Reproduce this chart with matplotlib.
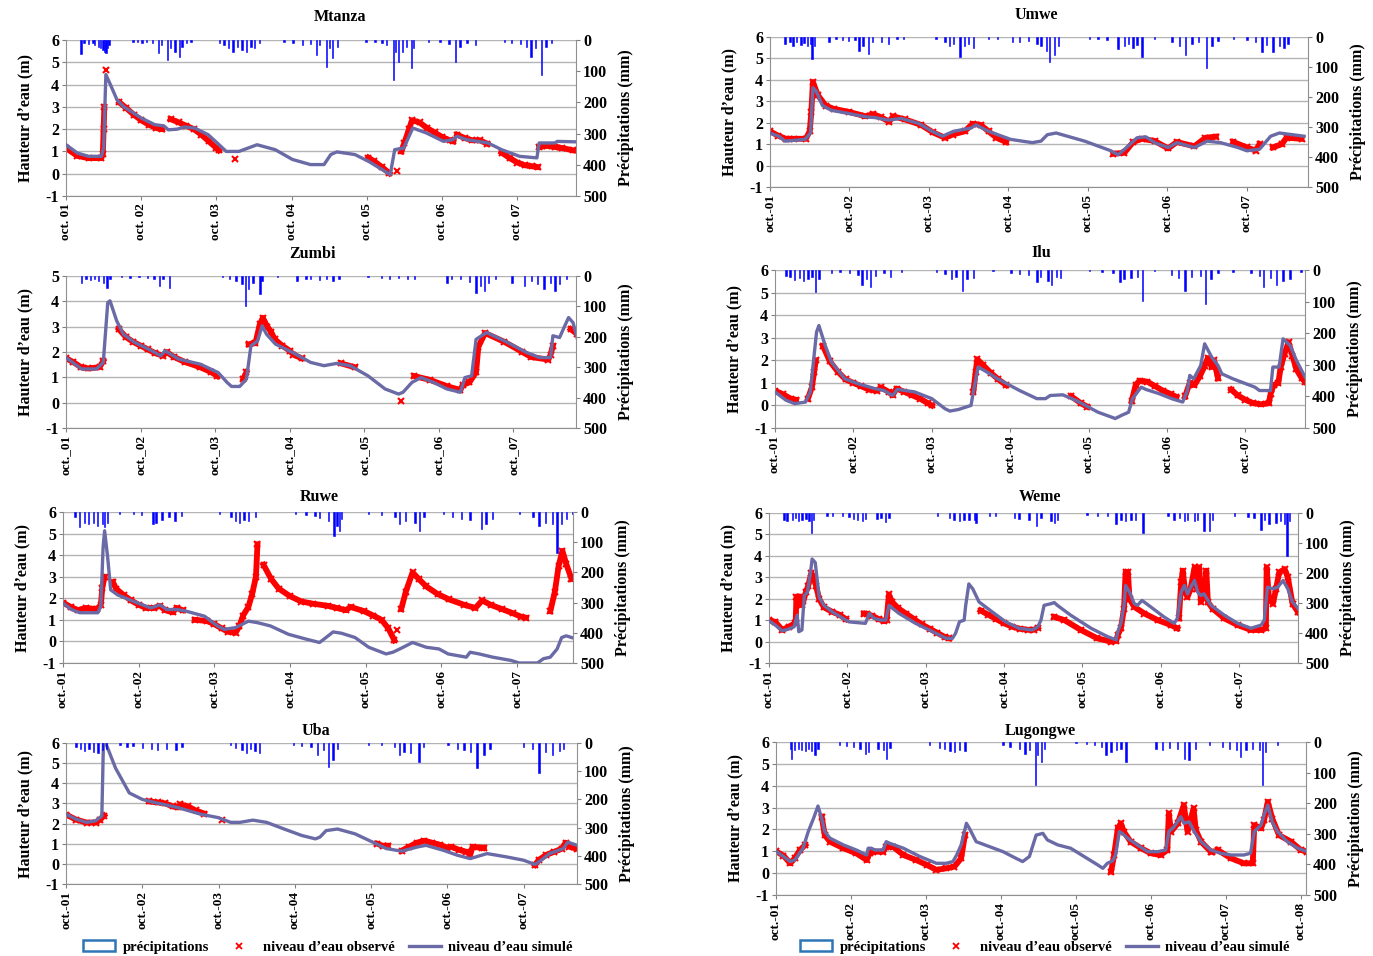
import numpy as np
import matplotlib
matplotlib.use('Agg')
import matplotlib.pyplot as plt
from matplotlib.patches import Patch
from matplotlib.lines import Line2D

nan = np.nan
plt.rcParams['font.family'] = ['Liberation Serif', 'DejaVu Serif']
plt.rcParams['font.weight'] = 'bold'
plt.rcParams['axes.labelweight'] = 'bold'
plt.rcParams['axes.unicode_minus'] = False

# time axis: years since oct. 2001

# ---------------- Mtanza ----------------
mtanza_sim_t = [0, .15, .3, .47, .5, .53, .59, .68, .77, 1.0, 1.18, 1.3, 1.36, 1.48, 1.57, 1.71, 1.89, 2.01, 2.13, 2.3,
                2.54, 2.78, 3.01, 3.25, 3.43, 3.52, 3.6, 3.84, 4.02, 4.2, 4.31, 4.37, 4.49, 4.61, 4.79, 5.02, 5.14, 5.2,
                5.32, 5.61, 5.79, 6.03, 6.26, 6.29, 6.5, 6.53, 6.78]
mtanza_sim_h = [1.3, .93, .78, .78, 1.15, 4.45, 4.0, 3.3, 3.0, 2.5, 2.2, 2.15, 1.97, 2.0, 2.1, 2.05, 1.75, 1.38, 1.0, 1.0,
                1.3, 1.08, .64, .41, .41, .86, .98, .86, .56, .19, -.04, 1.08, 1.15, 2.05, 1.83, 1.45, 1.53, 1.68,
                1.53, 1.38, 1.08, .78, .71, 1.38, 1.38, 1.45, 1.43]
mtanza_obs_t = [0, .15, .3, .47, .49, .5, .51, nan, .53, nan, .71, .8, .9, 1.0, 1.1, 1.2, 1.28, nan, 1.39, 1.5, 1.6, 1.7,
                1.8, 1.9, 2.0, 2.03, nan, 2.25, nan, 4.02, 4.1, 4.2, 4.3, nan, 4.4, nan, 4.46, 4.5, 4.56, 4.6, 4.7, 4.8,
                4.9, 5.0, 5.1, 5.15, nan, 5.2, 5.3, 5.4, 5.5, 5.6, nan, 5.79, 5.9, 6.0, 6.1, 6.2, 6.27, nan, 6.29, 6.4,
                6.5, 6.6, 6.74]
mtanza_obs_h = [1.15, .8, .7, .7, .9, 2.0, 3.0, nan, 4.65, nan, 3.2, 2.95, 2.65, 2.4, 2.2, 2.05, 2.0, nan, 2.45, 2.3, 2.15,
                2.0, 1.75, 1.45, 1.15, 1.05, nan, .66, nan, .72, .55, .3, .02, nan, .1, nan, 1.0, 1.4, 2.0, 2.4, 2.3,
                2.05, 1.85, 1.65, 1.5, 1.45, nan, 1.75, 1.6, 1.5, 1.5, 1.35, nan, .95, .7, .5, .38, .33, .3, nan, 1.2,
                1.25, 1.2, 1.15, 1.05]
mtanza_rain_t = [.2, .24, .3, .36, .38, .43, .46, .49, .51, .53, .55, .57,
                 .89, .95, 1.01, 1.07, 1.15, 1.23, 1.27, 1.35, 1.39, 1.45, 1.51, 1.54, 1.6, 1.66,
                 2.04, 2.1, 2.16, 2.22, 2.28, 2.34, 2.4, 2.46, 2.51, 2.57,
                 2.9, 3.02, 3.14, 3.25, 3.33, 3.37, 3.46, 3.5, 3.54, 3.61,
                 3.99, 4.11, 4.2, 4.26, 4.35, 4.38, 4.42, 4.47, 4.53, 4.59, 4.62,
                 4.82, 4.97, 5.09, 5.18, 5.24, 5.33, 5.44,
                 5.83, 5.92, 6.04, 6.12, 6.18, 6.24, 6.32, 6.38, 6.45]
mtanza_rain_mm = [46, 11, 14, 11, 16, 21, 27, 32, 37, 43, 27, 16,
                  5, 7, 11, 5, 11, 43, 16, 64, 27, 37, 53, 21, 11, 5,
                  11, 16, 27, 37, 21, 32, 37, 21, 27, 11,
                  5, 11, 16, 14, 48, 16, 85, 27, 59, 21,
                  5, 7, 11, 16, 128, 37, 69, 37, 21, 90, 27,
                  5, 7, 14, 69, 21, 11, 16,
                  5, 11, 14, 21, 53, 27, 112, 21, 11]

# ---------------- Umwe ----------------
umwe_sim_t = [0, .11, .19, .44, .51, .54, .58, .66, .77, .99, 1.21, 1.32, 1.49, 1.65, 1.87, 2.04, 2.17, 2.31, 2.53, 2.59,
              2.75, 3.03, 3.3, 3.41, 3.49, 3.6, 3.96, 4.29, 4.38, 4.51, 4.62, 4.73, 4.84, 5.01, 5.12, 5.34, 5.5, 5.67,
              5.89, 6.0, 6.16, 6.3, 6.41, 6.72]
umwe_sim_h = [1.52, 1.37, 1.14, 1.22, 1.52, 3.63, 3.48, 2.8, 2.58, 2.43, 2.27, 2.24, 2.12, 2.2, 1.97, 1.6, 1.37, 1.6, 1.75,
              1.9, 1.6, 1.22, 1.07, 1.14, 1.44, 1.52, 1.14, .69, .5, .92, 1.3, 1.34, 1.07, .84, 1.07, .84, 1.14, 1.07,
              .84, .69, .76, 1.37, 1.52, 1.37]
umwe_obs_t = [0, .1, .2, .3, .45, .5, .52, .54, .6, .7, .8, 1.0, 1.2, 1.3, 1.4, 1.5, 1.55, 1.7, 1.9, 2.05, 2.2, 2.3, 2.45,
              2.55, 2.65, 2.75, 2.85, 2.97, nan, 4.32, 4.46, 4.57, 4.68, 4.84, 5.01, 5.12, 5.34, 5.48, 5.61, nan, 5.83,
              6.0, 6.11, 6.16, nan, 6.33, 6.44, 6.5, 6.69]
umwe_obs_h = [1.6, 1.4, 1.25, 1.25, 1.25, 1.6, 2.5, 3.9, 3.3, 2.8, 2.65, 2.5, 2.3, 2.4, 2.25, 2.05, 2.3, 2.15, 1.9, 1.55,
              1.3, 1.45, 1.6, 1.95, 1.9, 1.6, 1.3, 1.1, nan, .55, .6, 1.1, 1.25, 1.15, .8, 1.1, .9, 1.3, 1.35, nan, 1.1,
              .85, .7, 1.0, nan, .85, 1.0, 1.3, 1.25]
umwe_rain_t = [.19, .25, .29, .33, .39, .43, .47, .51, .53, .56,
               .74, .83, .91, .99, 1.07, 1.12, 1.17, 1.24, 1.29, 1.4, 1.49, 1.6, 1.68,
               2.09, 2.2, 2.26, 2.31, 2.39, 2.45, 2.5, 2.56,
               2.75, 2.86, 3.05, 3.14, 3.25, 3.36, 3.41, 3.48, 3.52, 3.58, 3.63,
               4.02, 4.13, 4.24, 4.38, 4.46, 4.51, 4.57, 4.62, 4.68,
               4.84, 5.06, 5.15, 5.23, 5.31, 5.39, 5.49, 5.56, 5.64,
               5.83, 6.0, 6.11, 6.19, 6.25, 6.33, 6.41, 6.47, 6.52]
umwe_rain_mm = [24, 18, 29, 16, 27, 20, 31, 24, 72, 29,
                18, 8, 10, 13, 10, 45, 29, 56, 18, 16, 24, 8, 5,
                8, 16, 29, 24, 67, 29, 24, 35,
                5, 8, 16, 18, 13, 24, 29, 45, 83, 61, 29,
                5, 8, 10, 40, 29, 24, 35, 27, 67,
                5, 18, 29, 61, 24, 18, 104, 29, 13,
                8, 10, 18, 51, 27, 49, 29, 38, 24]

# ---------------- Zumbi ----------------
zumbi_sim_t = [0, .12, .21, .41, .5, .56, .59, .68, .77, .92, 1.15, 1.27, 1.33, 1.51, 1.8, 2.04, 2.16, 2.22, 2.33, 2.42,
               2.48, 2.57, 2.63, 2.69, 2.81, 3.04, 3.28, 3.46, 3.63, 3.81, 4.05, 4.28, 4.46, 4.52, 4.64, 4.76, 4.93,
               5.11, 5.29, 5.35, 5.44, 5.5, 5.64, 5.88, 6.18, 6.35, 6.5, 6.53, 6.62, 6.68, 6.74, 6.8, 6.86]
zumbi_sim_h = [1.78, 1.52, 1.33, 1.33, 1.59, 3.95, 4.02, 3.23, 2.7, 2.38, 2.05, 1.85, 2.05, 1.72, 1.52, 1.19, .8, .64,
               .64, .93, 2.24, 2.44, 3.03, 2.7, 2.31, 1.98, 1.59, 1.46, 1.55, 1.46, 1.06, .54, .34, .41, .8, .99, .8,
               .54, .41, .99, 1.06, 2.5, 2.77, 2.44, 1.98, 1.78, 1.78, 2.64, 2.57, 2.97, 3.36, 3.16, 2.5]
zumbi_obs_t = [0, .1, .2, .3, .45, .5, nan, .71, .8, .9, 1.0, 1.1, 1.2, 1.3, 1.35, 1.45, 1.6, 1.8, 1.95, 2.03, nan, 2.38,
               2.42, nan, 2.45, 2.54, 2.6, 2.64, 2.7, 2.75, 2.8, 2.9, 3.0, 3.05, 3.16, nan, 3.69, 3.87, nan, 4.49, nan,
               4.67, 4.88, 5.11, 5.29, 5.32, 5.41, 5.5, 5.53, 5.62, 5.88, 6.12, 6.24, 6.47, 6.5, 6.53, nan, 6.77, 6.86]
zumbi_obs_h = [1.75, 1.6, 1.4, 1.35, 1.4, 1.65, nan, 2.9, 2.6, 2.4, 2.25, 2.1, 1.95, 1.85, 2.0, 1.8, 1.6, 1.4, 1.2, 1.05,
               nan, .95, 1.2, nan, 2.3, 2.35, 3.1, 3.35, 3.0, 2.8, 2.5, 2.25, 2.05, 1.9, 1.75, nan, 1.55, 1.4, nan, .08,
               nan, 1.05, .9, .65, .5, .7, .8, 1.2, 2.2, 2.75, 2.4, 2.0, 1.8, 1.7, 1.9, 2.25, nan, 2.9, 2.7]
zumbi_rain_t = [.21, .27, .33, .38, .44, .5, .55, .59,
                .74, .86, .98, 1.09, 1.18, 1.25, 1.3, 1.39,
                2.1, 2.19, 2.28, 2.36, 2.41, 2.45, 2.51, 2.6, 2.63,
                2.84, 3.1, 3.22, 3.28, 3.4, 3.49, 3.58, 3.66,
                4.05, 4.23, 4.34, 4.46, 4.58, 4.67,
                5.11, 5.17, 5.29, 5.41, 5.5, 5.56, 5.61, 5.67, 5.76,
                5.98, 6.15, 6.24, 6.32, 6.41, 6.5, 6.56, 6.62, 6.71]
zumbi_rain_mm = [22, 9, 13, 9, 16, 22, 38, 11,
                 3, 5, 4, 7, 11, 33, 9, 38,
                 3, 9, 16, 27, 98, 44, 22, 60, 16,
                 3, 16, 11, 9, 14, 9, 16, 11,
                 2, 5, 9, 7, 11, 9,
                 22, 9, 11, 20, 55, 33, 49, 22, 9,
                 22, 33, 16, 27, 44, 22, 49, 27, 9]

# ---------------- Ilu ----------------
ilu_sim_t = [0, .14, .25, .39, .45, .53, .56, .64, .72, .89, 1.06, 1.28, 1.39, 1.5, 1.56, 1.78, 2.0, 2.17, 2.23, 2.34,
             2.5, 2.53, 2.59, 2.67, 2.84, 3.12, 3.34, 3.45, 3.51, 3.67, 3.84, 4.12, 4.34, 4.42, 4.51, 4.56, 4.67, 4.73,
             4.9, 5.06, 5.2, 5.26, 5.29, 5.34, 5.43, 5.48, 5.57, 5.65, 5.7, 5.84, 6.12, 6.18, 6.32, 6.35, 6.43, 6.48,
             6.57, 6.65, 6.76]
ilu_sim_h = [.6, .23, .08, .15, .6, 3.25, 3.54, 2.66, 1.92, 1.18, .96, .74, .66, .44, .71, .6, .3, -.15, -.25, -.18, 0,
             .6, 1.7, 1.55, 1.18, .66, .3, .3, .44, .47, .22, -.3, -.58, -.44, -.3, .3, .81, .71, .52, .3, .15, .66,
             1.33, 1.18, 1.77, 2.73, 2.14, 1.77, 1.4, 1.18, .81, .66, .66, 1.7, 1.7, 2.95, 2.66, 2.0, 1.26]
ilu_obs_t = [0, .1, .2, .27, nan, .42, .47, .5, .52, nan, .61, .7, .8, .9, 1.0, 1.1, 1.2, 1.3, 1.35, 1.45, 1.5, 1.55,
             1.65, 1.75, 1.85, 1.95, 2.0, nan, 2.53, 2.56, 2.58, 2.65, 2.75, 2.85, 2.95, nan, 3.78, 3.9, 3.98, nan,
             4.55, 4.6, 4.65, 4.75, 4.85, 4.95, 5.05, 5.12, nan, 5.23, 5.29, 5.35, 5.42, 5.48, 5.52, 5.57, 5.6, 5.65,
             nan, 5.82, 5.9, 6.0, 6.1, 6.2, 6.3, 6.32, 6.36, 6.42, 6.45, 6.5, 6.55, 6.6, 6.65, 6.72, 6.76]
ilu_obs_h = [.65, .5, .3, .25, nan, .3, .8, 1.5, 2.0, nan, 2.65, 1.95, 1.5, 1.15, 1.0, .85, .7, .65, .8, .6, .45, .75,
             .6, .45, .3, .1, 0, nan, .6, 1.5, 2.05, 1.8, 1.45, 1.15, .9, nan, .4, .1, -.05, nan, .2, .9, 1.1, 1.05,
             .85, .65, .5, .38, nan, .4, 1.0, .9, 1.3, 1.75, 2.1, 1.7, 2.0, 1.2, nan, .7, .45, .25, .1, .05, .1, .5,
             .9, 1.0, 1.7, 2.3, 2.8, 2.2, 1.6, 1.2, 1.05]
ilu_rain_t = [.14, .19, .25, .31, .36, .42, .47, .52, .56,
              .72, .83, .95, 1.06, 1.11, 1.17, 1.22, 1.28, 1.39, 1.47, 1.61,
              2.06, 2.17, 2.25, 2.31, 2.39, 2.45, 2.53,
              2.78, 3.01, 3.12, 3.23, 3.34, 3.39, 3.48, 3.53, 3.59, 3.64,
              4.01, 4.17, 4.31, 4.4, 4.45, 4.54, 4.62, 4.69,
              4.84, 5.06, 5.15, 5.23, 5.31, 5.43, 5.49, 5.56, 5.65,
              5.84, 6.07, 6.18, 6.23, 6.32, 6.4, 6.48, 6.57, 6.71]
ilu_rain_mm = [18, 23, 31, 26, 34, 28, 23, 71, 28,
               9, 7, 9, 16, 49, 28, 55, 18, 9, 23, 5,
               5, 13, 28, 23, 68, 28, 26,
               3, 9, 13, 16, 39, 23, 34, 47, 23, 26,
               3, 7, 9, 39, 28, 26, 23, 97,
               3, 16, 26, 65, 23, 18, 107, 28, 9,
               5, 9, 18, 55, 26, 49, 34, 28, 7]

# ---------------- Ruwe ----------------
ruwe_sim_t = [0, .11, .22, .46, .5, .53, .55, .59, .63, .72, .93, 1.16, 1.28, 1.37, 1.51, 1.63, 1.87, 2.04, 2.13, 2.28,
              2.45, 2.57, 2.74, 2.98, 3.21, 3.39, 3.45, 3.57, 3.68, 3.86, 4.04, 4.27, 4.36, 4.45, 4.62, 4.8, 4.97,
              5.09, 5.33, 5.38, 5.5, 5.68, 5.92, 6.03, 6.27, 6.35, 6.44, 6.53, 6.59, 6.65, 6.76]
ruwe_sim_h = [1.78, 1.48, 1.33, 1.33, 1.63, 4.37, 5.13, 3.91, 2.39, 2.16, 1.86, 1.55, 1.7, 1.48, 1.48, 1.4, 1.17, .72,
              .56, .64, .94, .87, .72, .33, .11, -.05, .11, .44, .38, .18, -.27, -.58, -.5, -.35, -.05, -.27, -.35,
              -.58, -.73, -.5, -.58, -.73, -.88, -1.0, -1.0, -.8, -.73, -.35, .18, .26, .14]
ruwe_obs_t = [0, .1, .2, .3, .45, .5, .52, .55, nan, .66, .7, .8, .9, 1.0, 1.1, 1.2, 1.28, 1.35, 1.45, 1.5, 1.58, nan,
              1.74, 1.9, 2.0, 2.1, 2.18, 2.28, 2.33, 2.38, 2.45, 2.5, 2.55, 2.57, nan, 2.65, 2.75, 2.85, 3.0, 3.15,
              3.3, 3.5, 3.62, 3.74, 3.8, 3.98, 4.1, 4.21, 4.3, 4.38, nan, 4.42, nan, 4.47, 4.53, 4.62, 4.7, 4.8, 4.95,
              5.1, 5.3, 5.45, 5.54, 5.65, 5.8, 5.95, 6.05, 6.12, nan, 6.44, 6.5, 6.55, 6.6, 6.65, 6.72]
ruwe_obs_h = [1.8, 1.6, 1.45, 1.55, 1.5, 1.7, 2.5, 3.0, nan, 2.75, 2.45, 2.15, 1.9, 1.7, 1.55, 1.55, 1.65, 1.45, 1.35,
              1.55, 1.45, nan, 1.0, .95, .8, .6, .45, .4, .7, 1.2, 1.6, 2.2, 3.0, 4.5, nan, 3.55, 2.9, 2.45, 2.1, 1.85,
              1.75, 1.65, 1.55, 1.45, 1.6, 1.4, 1.2, 1.0, .6, .05, nan, .55, nan, 1.5, 2.3, 3.2, 2.9, 2.55, 2.2, 1.95,
              1.7, 1.55, 1.9, 1.7, 1.5, 1.3, 1.15, 1.1, nan, 1.4, 2.3, 3.5, 4.2, 3.6, 2.9]
ruwe_rain_t = [.16, .22, .28, .34, .4, .46, .52, .55, .59,
               .75, .93, 1.04, 1.19, 1.23, 1.31, 1.4, 1.48, 1.57,
               2.07, 2.22, 2.28, 2.33, 2.39, 2.45, 2.54,
               3.07, 3.21, 3.33, 3.39, 3.51, 3.58, 3.62, 3.65, 3.68,
               4.04, 4.21, 4.39, 4.45, 4.53, 4.65, 4.71, 4.77,
               5.03, 5.15, 5.27, 5.38, 5.53, 5.59, 5.68,
               6.03, 6.21, 6.29, 6.38, 6.47, 6.53, 6.59, 6.65, 6.73]
ruwe_rain_mm = [18, 51, 35, 40, 38, 46, 40, 51, 35,
                5, 8, 10, 40, 35, 27, 18, 29, 13,
                8, 18, 29, 35, 27, 29, 18,
                5, 10, 14, 21, 29, 78, 46, 62, 24,
                8, 10, 16, 40, 29, 35, 62, 18,
                8, 18, 24, 27, 57, 40, 24,
                8, 16, 46, 35, 40, 136, 40, 24, 8]

# ---------------- Weme ----------------
weme_sim_t = [0, .08, .17, .25, .32, .36, .38, .42, .45, .49, .53, .55, .59, .64, .7, .81, 1.02, 1.23, 1.28, 1.34, 1.43,
              1.49, 1.53, 1.66, 1.87, 2.09, 2.26, 2.34, 2.38, 2.43, 2.49, 2.51, 2.55, 2.6, 2.68, 2.85, 3.02, 3.19,
              3.36, 3.43, 3.47, 3.51, 3.6, 3.64, 3.68, 3.85, 4.11, 4.32, 4.43, 4.45, 4.49, 4.53, 4.55, 4.6, 4.66, 4.7,
              4.76, 4.87, 5.04, 5.17, 5.21, 5.26, 5.3, 5.34, 5.38, 5.43, 5.47, 5.51, 5.55, 5.64, 5.81, 5.98, 6.15,
              6.28, 6.32, 6.36, 6.43, 6.49, 6.56, 6.62, 6.68, 6.75]
weme_sim_h = [.97, .77, .5, .58, .69, 1.23, .46, .54, 2.15, 2.3, 3.23, 3.85, 3.69, 2.08, 1.69, 1.38, .92, .85, 1.31,
              1.08, 1.0, 1.0, 1.69, 1.31, .85, .46, .15, .15, .38, .92, 1.0, 1.69, 2.69, 2.46, 1.85, 1.38, .92, .62,
              .54, .69, 1.0, 1.69, 1.77, 1.82, 1.69, 1.23, .62, .23, .08, .46, .85, 1.69, 2.62, 2.31, 1.77, 1.69,
              1.92, 1.62, 1.15, .85, 1.08, 2.31, 2.62, 2.23, 2.54, 2.85, 2.31, 2.15, 2.23, 1.69, 1.23, .85, .62, .77,
              1.0, 2.54, 2.46, 2.54, 2.85, 2.46, 1.85, 1.54]
weme_obs_t = [0, .08, .17, .25, .33, .34, .35, .4, .42, .44, .47, .5, .54, .57, .6, .64, .7, .8, .9, .98, nan, 1.21,
              1.25, 1.32, 1.4, 1.47, 1.5, 1.53, 1.57, 1.65, 1.75, 1.85, 1.95, 2.05, 2.15, 2.25, 2.3, nan, 2.7, 2.8,
              2.9, 3.0, 3.1, 3.2, 3.3, 3.38, 3.43, nan, 3.64, 3.77, 3.98, 4.19, 4.36, 4.43, 4.45, 4.49, 4.53, 4.55,
              4.58, 4.6, 4.66, 4.79, 4.96, 5.13, 5.21, nan, 5.23, 5.26, 5.28, 5.31, 5.34, 5.38, 5.43, 5.46, 5.49,
              5.51, 5.55, 5.58, 5.6, 5.66, 5.81, 5.98, 6.15, 6.28, 6.34, 6.35, 6.38, 6.43, 6.47, 6.51, 6.58, 6.62,
              6.68, 6.75]
weme_obs_h = [1.0, .92, .54, .69, .85, .85, 2.1, 2.1, 1.7, 1.9, 2.3, 2.6, 3.2, 3.0, 2.6, 2.0, 1.6, 1.4, 1.25, 1.05, nan,
              1.31, 1.3, 1.2, 1.05, .95, 1.0, 2.2, 1.85, 1.55, 1.3, 1.05, .8, .6, .4, .2, .15, nan, 1.45, 1.25, 1.05,
              .85, .7, .6, .55, .55, .65, nan, 1.15, 1.0, .54, .15, 0, .03, .3, .62, 1.54, 3.23, 3.23, 2.0, 1.62,
              1.31, 1.0, .77, .62, nan, 1.08, 2.77, 3.31, 2.31, 2.08, 2.46, 3.46, 2.46, 3.46, 1.85, 2.15, 3.31, 1.85,
              1.54, 1.08, .77, .54, .54, .62, 3.46, 2.0, 1.77, 2.46, 3.23, 3.38, 3.0, 1.77, 1.38]
weme_rain_t = [.19, .23, .3, .34, .38, .42, .47, .51, .54, .57,
               .74, .81, .94, 1.02, 1.08, 1.13, 1.19, 1.23, 1.38, 1.43, 1.49, 1.53,
               2.15, 2.3, 2.36, 2.43, 2.49, 2.55, 2.62, 2.64,
               2.81, 2.89, 3.13, 3.19, 3.32, 3.41, 3.47, 3.6, 3.64, 3.68,
               4.06, 4.19, 4.32, 4.43, 4.49, 4.55, 4.62, 4.68, 4.77,
               5.09, 5.17, 5.24, 5.3, 5.34, 5.43, 5.47, 5.55, 5.62, 5.66,
               5.94, 6.11, 6.19, 6.28, 6.32, 6.38, 6.47, 6.53, 6.58, 6.61, 6.64]
weme_rain_mm = [22, 27, 24, 16, 27, 22, 20, 27, 68, 22,
                11, 9, 11, 13, 20, 22, 27, 20, 20, 16, 31, 16,
                9, 16, 22, 27, 24, 22, 24, 33,
                9, 11, 16, 20, 22, 44, 16, 27, 33, 22,
                5, 9, 11, 38, 22, 27, 24, 22, 66,
                9, 22, 16, 27, 22, 27, 24, 60, 60, 22,
                9, 13, 16, 55, 22, 38, 33, 27, 38, 143, 27]

# ---------------- Uba ----------------
uba_sim_t = [0, .13, .27, .39, .47, .49, .51, .65, .83, 1.0, 1.17, 1.47, 1.76, 1.99, 2.16, 2.28, 2.45, 2.63, 2.86, 3.09,
             3.27, 3.33, 3.41, 3.56, 3.79, 4.02, 4.2, 4.4, 4.61, 4.72, 4.95, 5.13, 5.3, 5.52, 5.77, 6.0, 6.15, 6.23,
             6.34, 6.52, 6.58, 6.7]
uba_sim_h = [2.47, 2.22, 2.06, 2.14, 2.38, 5.9, 6.1, 4.75, 3.52, 3.2, 3.04, 2.79, 2.47, 2.3, 2.06, 2.06, 2.17, 2.06,
             1.73, 1.41, 1.24, 1.33, 1.65, 1.73, 1.49, 1.08, .76, .63, .84, .92, .67, .43, .26, .51, .35, .18, -.03,
             .18, .51, .76, 1.08, .92]
uba_obs_t = [0, .13, .27, .39, .45, .5, nan, 1.09, 1.2, 1.3, 1.4, 1.47, 1.5, 1.6, 1.7, 1.81, nan, 2.05, nan, 4.08, 4.15,
             4.22, nan, 4.4, 4.5, 4.6, 4.7, 4.8, 4.9, 5.0, 5.05, 5.15, 5.25, 5.3, 5.33, 5.45, 5.48, nan, 6.15, 6.2,
             6.3, 6.4, 6.5, 6.55, 6.6, 6.7]
uba_obs_h = [2.45, 2.2, 2.05, 2.05, 2.2, 2.4, nan, 3.1, 3.05, 3.0, 2.85, 2.8, 2.95, 2.85, 2.65, 2.5, nan, 2.17, nan, 1.0,
             .9, .9, nan, .65, .85, 1.05, 1.15, 1.05, .95, .8, .85, .7, .6, .45, .85, .8, .8, nan, -.05, .2, .45, .6,
             .75, 1.05, .85, .75]
uba_rain_t = [.13, .19, .24, .3, .36, .42, .48, .53,
              .71, .8, .88, 1.0, 1.12, 1.2, 1.32, 1.44, 1.52,
              2.16, 2.22, 2.31, 2.37, 2.42, 2.48, 2.54,
              2.98, 3.09, 3.21, 3.3, 3.38, 3.44, 3.5, 3.56,
              3.97, 4.14, 4.31, 4.37, 4.43, 4.52, 4.63, 4.69,
              5.01, 5.13, 5.22, 5.3, 5.39, 5.48, 5.56,
              6.0, 6.12, 6.2, 6.29, 6.38, 6.47, 6.52]
uba_rain_mm = [14, 20, 29, 20, 31, 37, 26, 20,
               6, 14, 10, 17, 20, 26, 22, 26, 14,
               8, 17, 26, 34, 20, 29, 34,
               6, 10, 14, 43, 26, 84, 60, 20,
               6, 8, 14, 43, 31, 37, 66, 14,
               6, 20, 26, 31, 90, 43, 20,
               14, 20, 107, 31, 43, 29, 20]

# ---------------- Lugongwe ----------------
lugongwe_sim_t = [0, .1, .19, .25, .36, .43, .5, .56, .61, .65, .72, .9, 1.07, 1.21, 1.23, 1.27, 1.32, 1.43, 1.47, 1.52,
                  1.7, 1.92, 2.14, 2.27, 2.36, 2.41, 2.47, 2.54, 2.58, 2.67, 2.85, 3.03, 3.2, 3.29, 3.38, 3.47, 3.56,
                  3.62, 3.76, 3.93, 4.11, 4.29, 4.36, 4.42, 4.49, 4.53, 4.58, 4.62, 4.69, 4.82, 4.96, 5.09, 5.2,
                  5.24, 5.31, 5.4, 5.44, 5.51, 5.58, 5.67, 5.8, 5.93, 6.07, 6.24, 6.33, 6.38, 6.47, 6.51, 6.56, 6.62,
                  6.69, 6.82, 6.96, 7.09]
lugongwe_sim_h = [1.0, .76, .53, .6, 1.14, 1.9, 2.5, 3.07, 2.5, 1.9, 1.6, 1.29, 1.06, .83, 1.14, 1.14, 1.06, 1.06, 1.44,
                  1.36, 1.14, .76, .45, .45, .53, .83, 1.29, 2.28, 2.05, 1.44, 1.21, .98, .68, .53, .76, 1.74, 1.82,
                  1.52, 1.29, 1.14, .76, .38, .22, .45, .56, .83, 1.9, 1.82, 1.6, 1.29, .98, .98, 1.06, 1.9, 2.12,
                  2.58, 2.28, 2.35, 1.9, 1.44, 1.06, .91, .83, .83, .91, 1.9, 2.2, 2.66, 3.11, 2.35, 1.9, 1.44, 1.14,
                  .98]
lugongwe_obs_t = [0, .1, .19, .25, .32, .39, nan, .61, .65, .72, .9, 1.07, 1.21, 1.25, 1.3, 1.43, 1.47, 1.56, 1.7,
                  1.87, 2.01, 2.14, 2.27, 2.38, 2.47, 2.52, nan, 4.47, 4.51, 4.56, 4.6, 4.64, 4.73, 4.87, 5.0, 5.13,
                  5.22, 5.24, 5.27, 5.36, 5.44, 5.49, 5.57, 5.6, 5.67, 5.8, 5.82, nan, 5.89, 6.07, 6.24, 6.36, 6.38,
                  6.47, 6.51, 6.56, 6.62, 6.71, 6.87, 7.0, 7.09]
lugongwe_obs_h = [1.0, .8, .45, .68, 1.06, 1.29, nan, 2.58, 1.74, 1.44, 1.14, .91, .6, .91, .98, .98, 1.21, 1.21, .83,
                  .6, .38, .15, .22, .3, .68, 1.74, nan, .07, .83, 2.05, 2.28, 1.9, 1.44, 1.14, .91, .83, 1.06, 2.73,
                  1.9, 2.28, 3.11, 1.9, 2.96, 1.97, 1.44, .98, .98, nan, 1.06, .68, .45, .45, 2.2, 2.05, 2.43, 3.26,
                  2.5, 1.74, 1.44, 1.06, .98]
lugongwe_rain_t = [.19, .21, .25, .3, .34, .39, .43, .47, .52, .56,
                   .85, .94, 1.03, 1.12, 1.19, 1.23, 1.36, 1.43, 1.47, 1.52,
                   2.05, 2.18, 2.25, 2.32, 2.38, 2.45, 2.52,
                   3.03, 3.12, 3.25, 3.32, 3.38, 3.46, 3.49, 3.54, 3.58,
                   4.0, 4.14, 4.25, 4.34, 4.4, 4.47, 4.54, 4.6, 4.67,
                   5.07, 5.16, 5.25, 5.36, 5.45, 5.51, 5.6,
                   5.78, 5.96, 6.05, 6.14, 6.2, 6.27, 6.36, 6.45, 6.49, 6.53, 6.69]
lugongwe_rain_mm = [22, 54, 27, 22, 27, 30, 24, 30, 43, 22,
                    9, 13, 16, 24, 38, 33, 22, 27, 54, 20,
                    11, 20, 24, 30, 33, 27, 30,
                    11, 16, 22, 38, 27, 141, 43, 65, 22,
                    2, 5, 9, 16, 43, 33, 27, 22, 65,
                    22, 27, 20, 24, 54, 60, 22,
                    11, 16, 22, 27, 49, 27, 22, 27, 141, 33, 11]

# title, box px (left, right, top, bottom), y range, x end, tick prefix, n ticks, title pos, data
panels = [
    ('Mtanza', (66, 576, 40, 196), (-1, 6), 6.78, 'oct. ', 7, 340, 17,
     mtanza_sim_t, mtanza_sim_h, mtanza_obs_t, mtanza_obs_h, mtanza_rain_t, mtanza_rain_mm),
    ('Umwe', (770, 1308, 37, 187), (-1, 6), 6.77, 'oct.-', 7, 1036, 15,
     umwe_sim_t, umwe_sim_h, umwe_obs_t, umwe_obs_h, umwe_rain_t, umwe_rain_mm),
    ('Zumbi', (66, 576, 276, 428), (-1, 5), 6.84, 'oct._', 7, 313, 254,
     zumbi_sim_t, zumbi_sim_h, zumbi_obs_t, zumbi_obs_h, zumbi_rain_t, zumbi_rain_mm),
    ('Ilu', (775, 1305, 270, 428), (-1, 6), 6.76, 'oct.-', 7, 1041, 253,
     ilu_sim_t, ilu_sim_h, ilu_obs_t, ilu_obs_h, ilu_rain_t, ilu_rain_mm),
    ('Ruwe', (63, 573, 512, 663), (-1, 6), 6.74, 'oct.-', 7, 319, 497,
     ruwe_sim_t, ruwe_sim_h, ruwe_obs_t, ruwe_obs_h, ruwe_rain_t, ruwe_rain_mm),
    ('Weme', (769, 1298, 513, 663), (-1, 6), 6.75, 'oct.-', 7, 1040, 497,
     weme_sim_t, weme_sim_h, weme_obs_t, weme_obs_h, weme_rain_t, weme_rain_mm),
    ('Uba', (66, 577, 743, 884), (-1, 6), 6.7, 'oct.-', 7, 316, 731,
     uba_sim_t, uba_sim_h, uba_obs_t, uba_obs_h, uba_rain_t, uba_rain_mm),
    ('Lugongwe', (776, 1306, 742, 895), (-1, 6), 7.07, 'oct.-', 8, 1040, 731,
     lugongwe_sim_t, lugongwe_sim_h, lugongwe_obs_t, lugongwe_obs_h, lugongwe_rain_t, lugongwe_rain_mm),
]

W, H = 1373, 956
fig = plt.figure(figsize=(W / 100, H / 100), dpi=100)
sim_color = '#6a6aa6'
grid_color = '#b4b4b4'

for (name, box, yr, xend, prefix, nyears, tx, ty,
     sim_t, sim_h, obs_t, obs_h, rain_t, rain_mm) in panels:
    l, r, t, b = box
    ax = fig.add_axes([l / W, 1 - b / H, (r - l) / W, (b - t) / H])
    ax.plot(obs_t, obs_h, color='red', lw=4.2, marker='x', ms=5, mew=1.5, zorder=2)
    ax.plot(sim_t, sim_h, color=sim_color, lw=2.4, zorder=3)
    ax.set_xlim(0, xend)
    ax.set_ylim(*yr)
    ax.set_yticks(range(yr[0], yr[1] + 1))
    ax.set_xticks(range(nyears))
    ax.set_xticklabels(['%s%02d' % (prefix, y + 1) for y in range(nyears)], rotation=90, fontsize=9.5)
    ax.tick_params(axis='y', labelsize=11.5, length=3, color='#808080', pad=2)
    ax.tick_params(axis='x', length=3, color='#808080', pad=2)
    ax.grid(axis='y', color=grid_color, lw=1)
    ax.set_axisbelow(True)
    for s in ['top', 'right']:
        ax.spines[s].set_visible(False)
    for s in ['left', 'bottom']:
        ax.spines[s].set_color('#909090')
    ax.set_ylabel('Hauteur d’eau (m)', fontsize=11.5, labelpad=9)

    ax2 = ax.twinx()
    ax2.bar(rain_t, rain_mm, width=0.018, color='#0000ff', edgecolor='#0000ff', lw=0.4, align='center', zorder=4)
    ax2.set_ylim(500, 0)
    ax2.set_xlim(0, xend)
    ax2.set_yticks(range(0, 501, 100))
    ax2.tick_params(axis='y', labelsize=11.5, length=3, color='#808080', pad=2)
    for s in ['top', 'left', 'bottom']:
        ax2.spines[s].set_visible(False)
    ax2.spines['right'].set_color('#909090')
    ax2.set_ylabel('Précipitations (mm)', fontsize=11.5, labelpad=8)

    fig.text(tx / W, 1 - ty / H, name, ha='center', va='center', fontsize=11.5, fontweight='bold')

handles = [Patch(facecolor='white', edgecolor='#2e75b6', lw=1.8),
           Line2D([], [], color='red', marker='x', ls='none', ms=4.5, mew=1.3),
           Line2D([], [], color=sim_color, lw=2.4)]
labels = ['précipitations', 'niveau d’eau observé', 'niveau d’eau simulé']
for cx in (328, 1045):
    fig.legend(handles, labels, loc='center', bbox_to_anchor=(cx / W, 1 - 947 / H), ncol=3, frameon=False,
               fontsize=10.5, handlelength=2.2, handletextpad=0.5, columnspacing=1.0)

fig.savefig('out.png', dpi=100)
